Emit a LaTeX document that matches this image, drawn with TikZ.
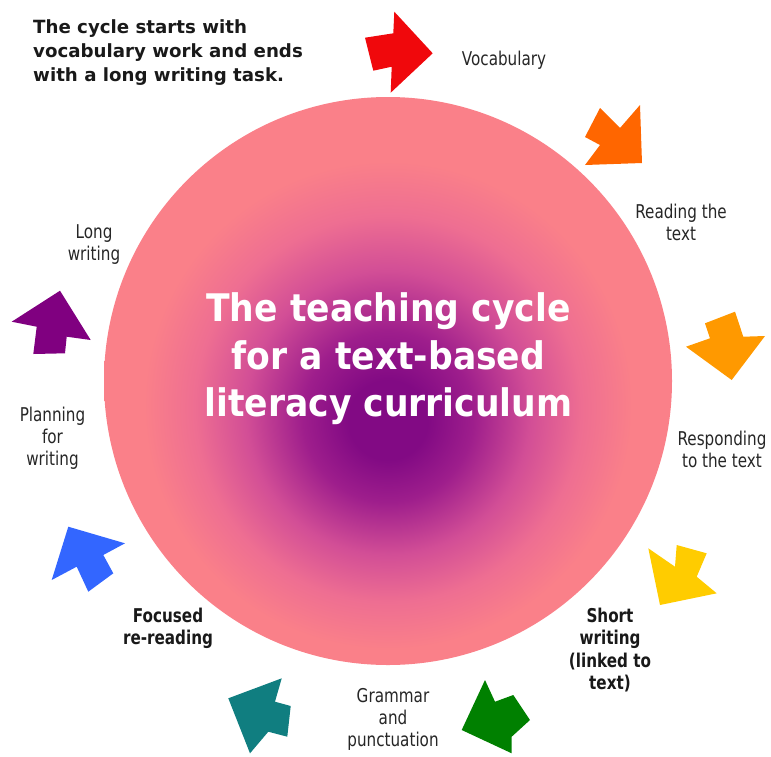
\documentclass[tikz,border=0pt]{standalone}
\usepackage{fontspec}
\setmainfont{DejaVu Sans}
\newfontfamily\lblfont[FakeStretch=0.8]{DejaVu Sans}
\newfontfamily\hubfont[FakeStretch=0.91]{DejaVu Sans}
\definecolor{cpurple}{RGB}{130,10,132}
\definecolor{cviolet}{RGB}{158,30,140}
\definecolor{cmagenta}{RGB}{210,78,150}
\definecolor{cpinkmid}{RGB}{238,110,146}
\definecolor{cedge}{RGB}{250,128,137}
\definecolor{ared}{RGB}{240,8,12}
\definecolor{aorange}{RGB}{255,102,0}
\definecolor{aamber}{RGB}{255,153,0}
\definecolor{ayellow}{RGB}{255,204,0}
\definecolor{agreen}{RGB}{0,128,0}
\definecolor{ateal}{RGB}{16,126,128}
\definecolor{ablue}{RGB}{51,102,255}
\definecolor{apurple}{RGB}{128,0,128}
\pgfdeclareradialshading{cycleshade}{\pgfpoint{0bp}{-3.7bp}}{color(0bp)=(cpurple); color(3.5bp)=(cpurple); color(7.5bp)=(cviolet); color(12.5bp)=(cmagenta); color(17bp)=(cpinkmid); color(21.5bp)=(cedge); color(50bp)=(cedge)}
\newcommand\ctab[1]{\begin{tabular}[t]{@{}c@{}}#1\end{tabular}}
\newcommand\ltab[1]{\begin{tabular}[t]{@{}l@{}}#1\end{tabular}}
\tikzset{
  lbl/.style={inner sep=0pt, anchor=base, text=black!85, font=\lblfont\fontsize{19}{22}\selectfont},
  blbl/.style={inner sep=0pt, anchor=base, text=black!90, font=\lblfont\bfseries\fontsize{19}{22.5}\selectfont},
  notetxt/.style={inner sep=0pt, anchor=base west, text=black!90, font=\bfseries\fontsize{18.2}{24.2}\selectfont},
  hubtxt/.style={inner sep=0pt, anchor=base, text=white, font=\hubfont\bfseries\fontsize{38}{47.5}\selectfont},
  hub/.style={circle, inner sep=0pt, minimum size=568pt, shading=cycleshade},
}
\begin{document}
\begin{tikzpicture}[x=1pt,y=-1pt]
\useasboundingbox (0,0) rectangle (771,756);
% central circle
\node[hub] (hub) at (388,381) {};
\node[hubtxt] (hubtitle) at (388.5,321.7) {\ctab{The teaching cycle\\for a text-based\\literacy curriculum}};
% note
\node[notetxt] (note) at (33,33.3) {\ltab{The cycle starts with\\vocabulary work and ends\\with a long writing task.}};
% labels
\node[lbl] (vocab) at (504,65.5) {\ctab{Vocabulary}};
\node[lbl] (reading) at (681,218) {\ctab{Reading the\\text}};
\node[lbl] (responding) at (722,445) {\ctab{Responding\\to the text}};
\node[blbl] (short) at (610,622) {\ctab{Short\\writing\\(linked to\\text)}};
\node[lbl] (grammar) at (393,702) {\ctab{Grammar\\and\\punctuation}};
\node[blbl] (focused) at (168,622) {\ctab{Focused\\re-reading}};
\node[lbl] (planning) at (52.5,421.7) {\ctab{Planning\\for\\writing}};
\node[lbl] (longw) at (94,238.3) {\ctab{Long\\writing}};
% arrows
\fill[ared] (365,37.7) -- (393.3,33.3) -- (394.3,11.7) -- (432.7,53.3) -- (390.7,92.7) -- (391.7,66.7) -- (373.3,70.7) -- cycle;
\fill[aorange] (600,108) -- (620,128) -- (640,105) -- (642,163) -- (585,165) -- (600,145) -- (585,137) -- cycle;
\fill[aamber] (705,323.3) -- (735,311.7) -- (743.3,336.7) -- (765,336) -- (731.7,380) -- (686,346.7) -- (710,338.3) -- cycle;
\fill[ayellow] (676.7,545) -- (706.7,553.3) -- (696.7,576.7) -- (716.7,593.3) -- (660,605) -- (648.3,548.3) -- (675,566.7) -- cycle;
\fill[agreen] (485,680) -- (495,701.7) -- (513.3,695) -- (530,720) -- (511.7,736.7) -- (511.7,753.3) -- (461.7,730) -- cycle;
\fill[ateal] (228.3,698.3) -- (281.7,678.3) -- (275,701.7) -- (290.7,706) -- (287.3,736.7) -- (268.3,731.7) -- (250,753.3) -- cycle;
\fill[ablue] (68.3,526.7) -- (125,543.3) -- (103.3,555) -- (113.3,573.3) -- (88.3,591.7) -- (76.7,566.7) -- (51.7,580) -- cycle;
\fill[apurple] (60,290.7) -- (90.7,340) -- (66.7,336.7) -- (65,353.3) -- (33.3,354) -- (36.7,326.7) -- (11.7,321.7) -- cycle;
\end{tikzpicture}
\end{document}
